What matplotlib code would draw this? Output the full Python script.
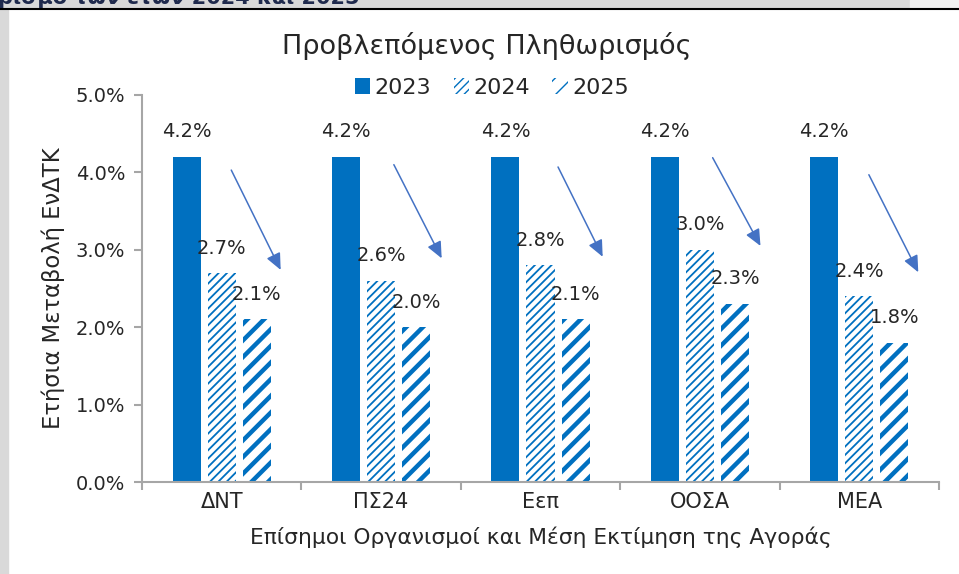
import matplotlib.pyplot as plt
import matplotlib as mpl
import numpy as np

# data (annual change of HICP, %)
categories = ['ΔΝΤ', 'ΠΣ24', 'Εεπ', 'ΟΟΣΑ', 'ΜΕΑ']
years = ['2023', '2024', '2025']
v2023 = [4.2, 4.2, 4.2, 4.2, 4.2]
v2024 = [2.7, 2.6, 2.8, 3.0, 2.4]
v2025 = [2.1, 2.0, 2.1, 2.3, 1.8]

# decorative arrows: (x offset start, y start, x offset end, y end)
arrow_start_dx = [0.06, 0.08, 0.11, 0.08, 0.06]
arrow_start_y = [4.03, 4.10, 4.07, 4.19, 3.97]
arrow_end_dx = [0.37, 0.38, 0.39, 0.38, 0.37]
arrow_end_y = [2.74, 2.89, 2.91, 3.05, 2.71]

blue = '#0070c0'
txt = '#262626'
grey = '#a6a6a6'

plt.rcParams['font.family'] = ['DejaVu Sans']

fig = plt.figure(figsize=(9.59, 5.74), dpi=100)

# page frame bits around the chart
fig.patches.append(plt.Rectangle((0, 1 - 8/574), 1, 8/574, transform=fig.transFigure,
                                 color='#d9d9d9', zorder=0))
fig.patches.append(plt.Rectangle((910/959, 1 - 8/574), 49/959, 8/574, transform=fig.transFigure,
                                 color='#f2f2f2', zorder=0))
fig.patches.append(plt.Rectangle((0, 0), 8/959, 1 - 8/574, transform=fig.transFigure,
                                 color='#d9d9d9', zorder=0))
fig.lines.append(plt.Line2D([0, 1], [1 - 8.5/574, 1 - 8.5/574], transform=fig.transFigure,
                            color='black', lw=1.5))
fig.text(-0.002, 1 - 4/574, 'ρισμό των ετών 2024 και 2025', color='#1f2a4d',
         fontsize=15, fontweight='bold', va='baseline', ha='left')

ax = fig.add_axes([142/959, 1 - 482/574, (939 - 142)/959, (482 - 95)/574])

x = np.arange(len(categories))
w = 0.176
step = 0.22

b1 = ax.bar(x - step, v2023, w, color=blue, label=years[0], zorder=2)
with mpl.rc_context({'hatch.linewidth': 1.3}):
    b2 = ax.bar(x, v2024, w, facecolor='white', edgecolor=blue, linewidth=0,
                hatch='////', label=years[1], zorder=2)
with mpl.rc_context({'hatch.linewidth': 3.2}):
    b3 = ax.bar(x + step, v2025, w, facecolor='white', edgecolor=blue, linewidth=0,
                hatch='//', label=years[2], zorder=2)

for bars, vals in [(b1, v2023), (b2, v2024), (b3, v2025)]:
    for r, v in zip(bars, vals):
        ax.annotate(f'{v:.1f}%', (r.get_x() + r.get_width()/2, v), xytext=(0, 18),
                    textcoords='offset points', ha='center', va='center',
                    fontsize=14, color=txt)

for i in range(len(categories)):
    ax.annotate('', xy=(i + arrow_end_dx[i], arrow_end_y[i]),
                xytext=(i + arrow_start_dx[i], arrow_start_y[i]),
                arrowprops=dict(arrowstyle='-|>,head_length=1.0,head_width=0.45',
                                mutation_scale=10, color='#4472c4', lw=1.1,
                                shrinkA=0, shrinkB=0))

ax.set_xlim(-0.5, 4.5)
ax.set_ylim(0, 5)
ax.set_yticks(np.arange(0, 5.01, 1.0))
ax.set_yticklabels([f'{t:.1f}%' for t in np.arange(0, 5.01, 1.0)])
ax.set_xticks(x)
ax.set_xticklabels(categories)
ax.set_xticks(np.arange(-0.5, 4.6, 1.0), minor=True)
ax.tick_params(axis='x', which='major', length=0, labelsize=15, colors=txt, pad=7)
ax.tick_params(axis='x', which='minor', length=6, color=grey, width=1.5)
ax.tick_params(axis='y', length=6, color=grey, width=1.5, labelsize=14, labelcolor=txt, pad=6)

for s in ['top', 'right']:
    ax.spines[s].set_visible(False)
for s in ['left', 'bottom']:
    ax.spines[s].set_color(grey)
    ax.spines[s].set_linewidth(1.5)

ax.set_ylabel('Ετήσια Μεταβολή ΕνΔΤΚ', fontsize=16.3, color=txt, labelpad=8)
ax.set_xlabel('Επίσημοι Οργανισμοί και Μέση Εκτίμηση της Αγοράς', fontsize=15.7,
              color=txt, labelpad=11)

fig.text(487/959, 1 - 46/574, 'Προβλεπόμενος Πληθωρισμός', ha='center', va='center',
         fontsize=19.5, color=txt)
fig.legend(handles=[b1, b2, b3], loc='center', bbox_to_anchor=(492/959, 1 - 88/574),
           ncol=3, frameon=False, fontsize=16, handlelength=0.7, handleheight=0.7,
           handletextpad=0.2, columnspacing=1.0, labelcolor=txt)

fig.savefig('out.png', dpi=100, facecolor='white')
